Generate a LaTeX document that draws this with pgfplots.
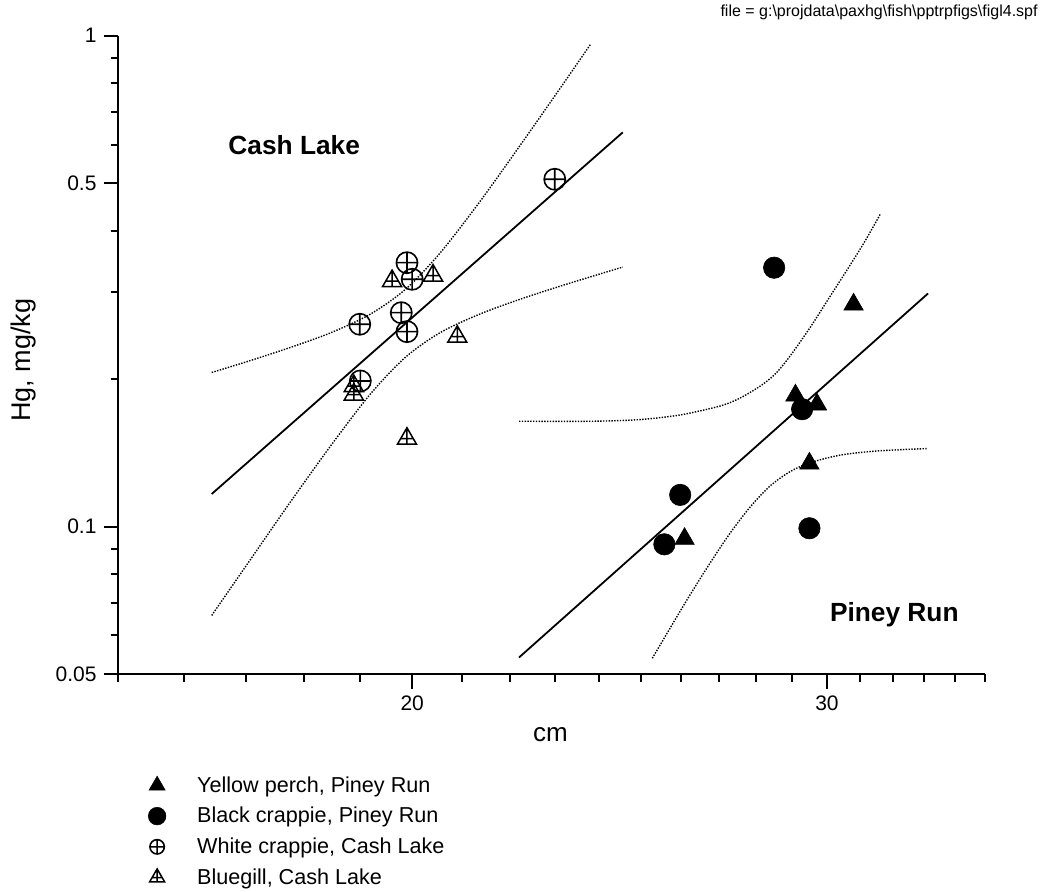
\documentclass[border=0pt]{standalone}
\usepackage{fontspec}
\setmainfont{Liberation Sans}
\usepackage{pgfplots}
\pgfplotsset{compat=1.18}

% open triangle with a cross inside (bluegill symbol)
\pgfdeclareplotmark{triplus}{%
  \pgfpathmoveto{\pgfqpoint{0pt}{\pgfplotmarksize}}%
  \pgfpathlineto{\pgfqpointpolar{-30}{\pgfplotmarksize}}%
  \pgfpathlineto{\pgfqpointpolar{-150}{\pgfplotmarksize}}%
  \pgfpathclose
  \pgfpathmoveto{\pgfqpoint{0pt}{\pgfplotmarksize}}%
  \pgfpathlineto{\pgfqpoint{0pt}{-.5\pgfplotmarksize}}%
  \pgfpathmoveto{\pgfqpoint{-.577\pgfplotmarksize}{0pt}}%
  \pgfpathlineto{\pgfqpoint{.577\pgfplotmarksize}{0pt}}%
  \pgfusepathqstroke
}

\pgfplotsset{
  fitline/.style={forget plot, black, line width=0.9pt},
  band/.style={forget plot, black, line width=0.7pt, dash pattern=on 0.7pt off 0.7pt, smooth},
}

\begin{document}
\begin{tikzpicture}
\path[use as bounding box] (-59pt,-108.85pt) rectangle (462.5pt,337.15pt);
\begin{axis}[
  at={(0pt,0pt)}, anchor=south west,
  scale only axis, width=433.25pt, height=319.3pt,
  xmode=log, ymode=log,
  xmin=15, xmax=35, ymin=0.05, ymax=1,
  axis x line*=bottom, axis y line*=left,
  axis line style={line width=1pt, -},
  tick align=outside,
  major tick length=7.25pt, minor tick length=3.75pt,
  tick style={line width=1pt, black},
  xtick={20,30}, xticklabels={20,30},
  minor xtick={15,16,17,18,19,21,22,23,24,25,26,27,28,29,31,32,33,34,35},
  ytick={0.05,0.1,0.5,1}, yticklabels={0.05,0.1,0.5,1},
  minor ytick={0.06,0.07,0.08,0.09,0.2,0.3,0.4,0.6,0.7,0.8,0.9},
  tick label style={font=\fontsize{10.5}{12}\selectfont},
  legend cell align=left,
  legend style={at={(0,0)}, anchor=north west, xshift=9.35pt, yshift=-49.8pt,
    draw=none, fill=none, inner sep=0pt, row sep=4.25pt, column sep=10pt,
    font=\fontsize{10.8}{13}\selectfont,
    nodes={inner sep=0pt, text height=8.9pt, text depth=2.2pt}},
  legend image code/.code={%
    \path[draw=none, fill=none] (-10pt,-5pt) rectangle (10pt,5pt);
    \draw[#1] plot coordinates {(0pt,0pt)};},
]
% Piney Run: fitted line and confidence band
\addplot[fitline] coordinates {(22.20,0.0541) (33.12,0.2985)};
\addplot[band] coordinates {
  (22.20,0.1639) (23.12,0.1638) (24.04,0.1640) (25.00,0.1652) (25.99,0.1688)
  (27.03,0.1761) (27.56,0.1828) (28.11,0.1934) (28.52,0.2046) (28.94,0.2226)
  (29.52,0.2550) (30.10,0.2950) (30.69,0.3411) (31.14,0.3817) (31.61,0.4333)};
\addplot[band] coordinates {
  (25.29,0.0539) (25.74,0.0622) (26.25,0.0728) (26.77,0.0845) (27.30,0.0972)
  (27.84,0.1098) (28.38,0.1210) (28.94,0.1294) (29.52,0.1350) (30.39,0.1398)
  (31.30,0.1422) (32.23,0.1434) (33.12,0.1442)};
% Cash Lake: fitted line and confidence band
\addplot[fitline] coordinates {(16.44,0.1165) (24.57,0.6355)};
\addplot[band] coordinates {
  (16.44,0.2060) (17.08,0.2180) (17.76,0.2318) (18.47,0.2482) (19.20,0.2709)
  (19.87,0.3044) (20.56,0.3617) (21.38,0.4610) (22.23,0.5989) (23.12,0.7836)
  (23.81,0.9609)};
\addplot[band] coordinates {
  (16.44,0.0659) (17.08,0.0859) (17.76,0.1124) (18.47,0.1461) (19.20,0.1862)
  (19.87,0.2213) (20.56,0.2486) (21.38,0.2713) (22.23,0.2906) (23.12,0.3090)
  (24.04,0.3273) (24.57,0.3378)};

% observations
\addplot[only marks, mark=triangle*, mark size=5.6pt,
  mark options={fill=black, draw=black, line width=0.3pt},
  legend image post style={mark size=4.6pt}] coordinates {
  (30.79,0.2834) (29.09,0.1850) (29.71,0.1773) (29.49,0.1344) (26.10,0.0944)};
\addlegendentry{Yellow perch, Piney Run}
\addplot[only marks, mark=*, mark size=5.35pt,
  mark options={fill=black, draw=black, line width=0.3pt},
  legend image post style={mark size=4.4pt}] coordinates {
  (28.49,0.3368) (29.28,0.1734) (25.99,0.1160) (25.59,0.0920) (29.49,0.0992)};
\addlegendentry{Black crappie, Piney Run}
\addplot[only marks, mark=oplus, mark size=5.3pt,
  mark options={draw=black, line width=0.8pt},
  legend image post style={mark size=3.6pt}] coordinates {
  (19.90,0.3448) (20.00,0.3190) (19.79,0.2727) (19.90,0.2495) (19.00,0.2583)
  (19.01,0.1980) (22.99,0.5099)};
\addlegendentry{White crappie, Cash Lake}
\addplot[only marks, mark=triplus, mark size=5.5pt,
  mark options={draw=black, line width=0.75pt},
  legend image post style={mark size=4.3pt}] coordinates {
  (19.61,0.3163) (20.41,0.3247) (20.90,0.2436) (18.89,0.1933) (18.89,0.1858)
  (19.90,0.1510)};
\addlegendentry{Bluegill, Cash Lake}
\end{axis}

\node[anchor=base, font=\fontsize{13}{15}\selectfont] at (216.25pt,-33.85pt) {cm};
\node[anchor=base, rotate=90, font=\fontsize{13.5}{15}\selectfont] at (-43.65pt,157.15pt) {Hg, mg/kg};
\node[anchor=base, font=\bfseries\fontsize{13.15}{15}\selectfont] at (88.1pt,259.65pt) {Cash Lake};
\node[anchor=base, font=\bfseries\fontsize{13.15}{15}\selectfont] at (388.15pt,26.4pt) {Piney Run};
\node[anchor=base east, inner sep=0pt, font=\fontsize{8}{9.6}\selectfont] at (460pt,328.65pt)
  {file = g:\textbackslash projdata\textbackslash paxhg\textbackslash fish\textbackslash pptrpfigs\textbackslash figl4.spf};
\end{tikzpicture}
\end{document}
